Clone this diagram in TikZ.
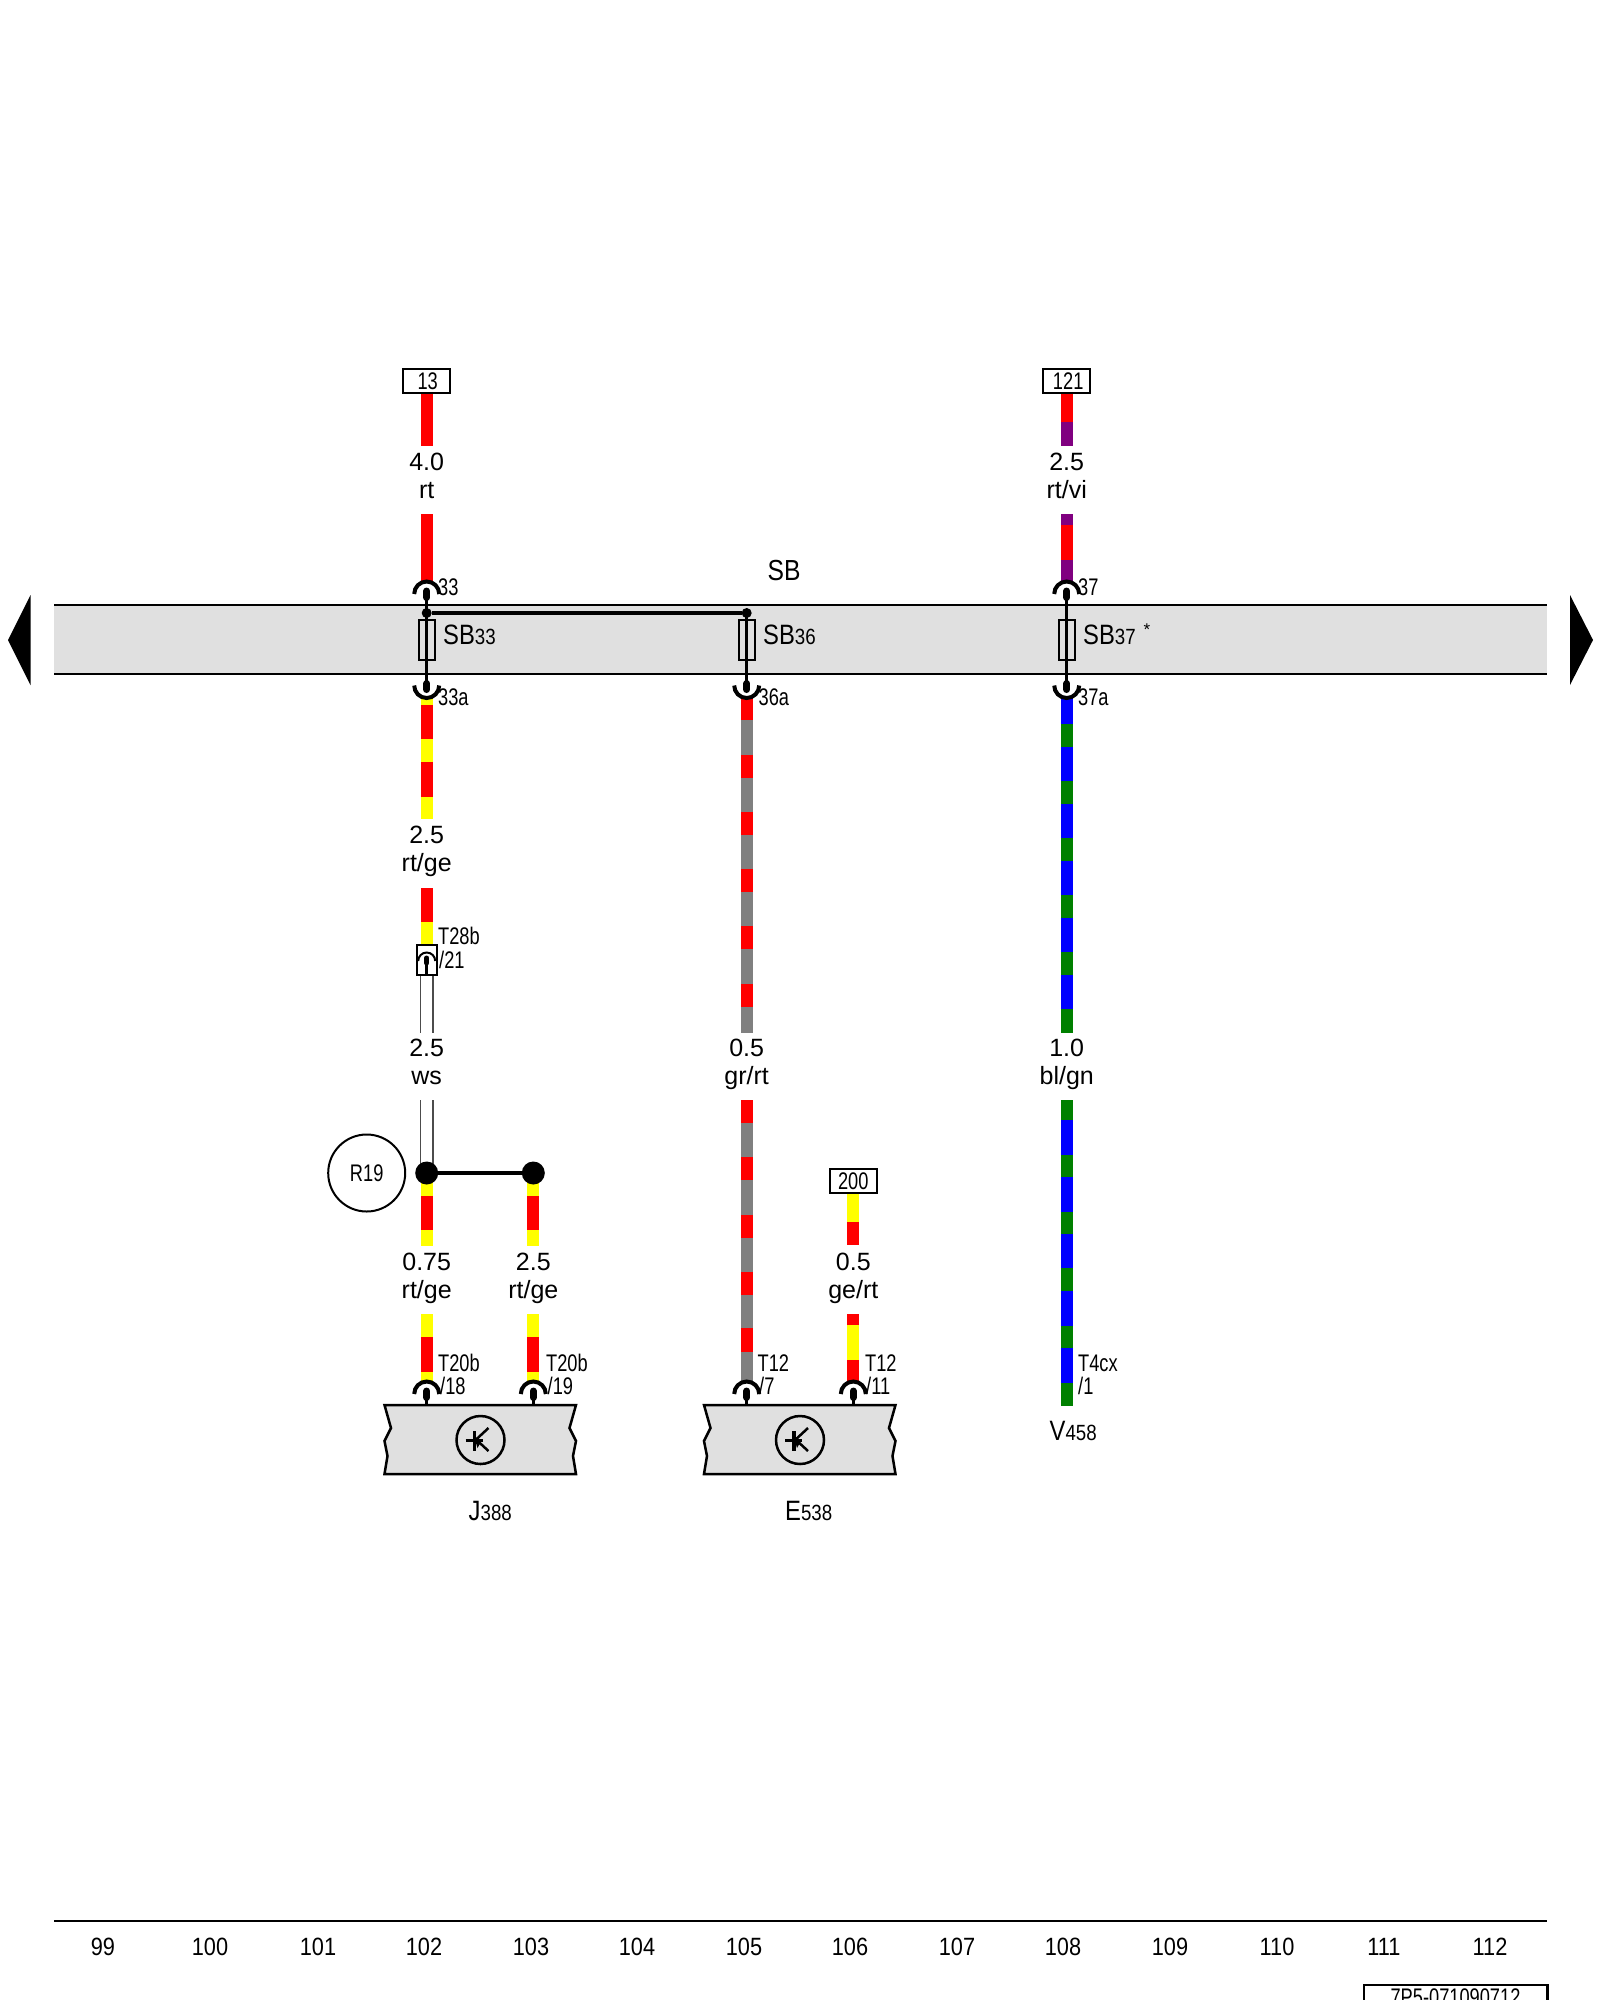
\documentclass[tikz,border=0pt]{standalone}
\usepackage{fontspec}
\setmainfont{Liberation Sans}
\newfontfamily\cf[FakeStretch=0.76]{Liberation Sans}
\newfontfamily\cfb[FakeStretch=0.85]{Liberation Sans}
\newfontfamily\nf[FakeStretch=0.87]{Liberation Sans}
\definecolor{wr}{HTML}{FF0000}
\definecolor{wy}{HTML}{FFFF00}
\definecolor{wg}{HTML}{808080}
\definecolor{wb}{HTML}{0000FF}
\definecolor{wn}{HTML}{008000}
\definecolor{wv}{HTML}{800080}
\definecolor{barfill}{HTML}{E0E0E0}
\tikzset{
  wireseg/.style={line width=12pt},
  whitewire/.style={line width=1.5pt,draw=black!70},
  wirelabel/.style={inner sep=0pt,anchor=base,font=\fontsize{25}{25}\selectfont},
  pinlabel/.style={inner sep=0pt,anchor=base west,font=\cf\fontsize{24}{24}\selectfont},
  reflabel/.style={draw=black,line width=2.5pt,fill=white,inner sep=0pt,minimum height=24pt,font=\cf\fontsize{24}{24}\selectfont},
  fusebox/.style={draw=black,line width=2pt,minimum width=16pt,minimum height=40pt,inner sep=0pt},
  thick wire/.style={line width=3.5pt,black},
  rail/.style={line width=2.5pt,black},
  collabel/.style={inner sep=0pt,anchor=base,font=\nf\fontsize{25}{25}\selectfont},
  bigname/.style={inner sep=0pt,anchor=base west,font=\cfb\fontsize{28}{28}\selectfont},
  ctrl/.style={draw=black,line width=2.5pt,fill=barfill,line join=miter},
  dotbig/.style={circle,fill=black,minimum size=23pt,inner sep=0pt},
  dotsmall/.style={circle,fill=black,minimum size=10pt,inner sep=0pt},
}
\newcommand\wirecol[2]{\foreach \ya/\yb/\cc in {#2}{\draw[wireseg,\cc] (#1,\ya) -- (#1,\yb);}}
\newcommand\sockup[2]{%
  \draw[line width=4pt,black] (#1-12.5,#2) arc[start angle=180,end angle=0,radius=12.5pt];
  \draw[line width=7pt,black,line cap=round] (#1,#2-3) -- (#1,#2+3.5);}
\newcommand\sockdown[2]{%
  \draw[line width=4pt,black] (#1-12.5,#2) arc[start angle=180,end angle=360,radius=12.5pt];
  \draw[line width=7pt,black,line cap=round] (#1,#2-2) -- (#1,#2+4);}
\newcommand\ctrlbox[1]{%
  \draw[ctrl] (#1,1405) -- (#1+191.5,1405) -- (#1+185,1428) -- (#1+191.5,1441) -- (#1+188.5,1456) -- (#1+191.5,1474)
     -- (#1,1474) -- (#1+3,1456) -- (#1,1441) -- (#1+6.5,1428) -- cycle;
  \node[circle,draw=black,line width=2.5pt,minimum size=48pt,inner sep=0pt] at (#1+96,1440) {};
  \draw[line width=3pt,black] (#1+81,1440) -- (#1+98,1440);
  \draw[line width=3.5pt,black] (#1+90,1431) -- (#1+90,1451);
  \draw[line width=2.5pt,black] (#1+90,1441) -- (#1+104,1428);
  \draw[line width=2.5pt,black] (#1+90,1438) -- (#1+104,1451);
  \fill[black] (#1+90,1438) -- (#1+97,1441) -- (#1+93,1448) -- cycle;}
\begin{document}
\begin{tikzpicture}[x=1pt,y=-1pt]
\useasboundingbox (0,0) rectangle (1600,2000);
% bar
\fill[barfill] (54,605) rectangle (1547,674);
\coordinate (barTL) at (54,605);\coordinate (barTR) at (1547,605);
\coordinate (barBL) at (54,674);\coordinate (barBR) at (1547,674);
\draw[rail] (barTL) -- (barTR);
\draw[rail] (barBL) -- (barBR);
\fill[black] (8,640) -- (30.5,595) -- (30.5,685) -- cycle;
\fill[black] (1593,640) -- (1570,595) -- (1570,685) -- cycle;
\node[inner sep=0pt,anchor=base west,font=\cfb\fontsize{29}{29}\selectfont] (sb) at (767.5,580) {SB};
% wire 102 upper
\wirecol{426.7}{393/445.7/wr,514/583/wr}
\wirecol{426.7}{698/705/wy,705/739/wr,739/762/wy,762/797/wr,797/819/wy,888/922/wr,922/945/wy}
% wire 108 upper
\wirecol{1066.7}{393/422/wr,422/445.7/wv,514/525/wv,525/560/wr,560/583/wv}
\wirecol{1066.7}{698/724/wb,724/747/wn,747/781/wb,781/804/wn,804/838/wb,838/861/wn,861/895/wb,895/918/wn,918/952/wb,952/975/wn,975/1009/wb,1009/1033/wn}
\wirecol{1066.7}{1100/1120/wn,1120/1155/wb,1155/1177/wn,1177/1212/wb,1212/1234/wn,1234/1268/wb,1268/1291/wn,1291/1326/wb,1326/1348/wn,1348/1383/wb,1383/1406/wn}
% wire 105
\wirecol{746.7}{698/720/wr,720/755/wg,755/778/wr,778/812/wg,812/835/wr,835/869/wg,869/892/wr,892/926/wg,926/949/wr,949/984/wg,984/1007/wr,1007/1033/wg}
\wirecol{746.7}{1100/1123/wr,1123/1157/wg,1157/1180/wr,1180/1215/wg,1215/1238/wr,1238/1272/wg,1272/1295/wr,1295/1328/wg,1328/1352/wr,1352/1383/wg}
% white wire
\foreach \xx in {420.5,433}{\draw[whitewire] (\xx,975) -- (\xx,1033);\draw[whitewire] (\xx,1100) -- (\xx,1173);}
% lower wires 102, 103
\foreach \xx in {426.7,533.3}{\wirecol{\xx}{1173/1196/wy,1196/1230/wr,1230/1246/wy,1314/1337/wy,1337/1372/wr,1372/1382/wy}}
% wire 106
\wirecol{853.3}{1193/1222/wy,1222/1245/wr,1314/1325/wr,1325/1360/wy,1360/1383/wr}
% reference boxes
\node[reflabel,minimum width=47pt] (r13) at (426.7,381) {\hspace*{2pt}13};
\node[reflabel,minimum width=47pt] (r121) at (1066.7,381) {\hspace*{3pt}121};
\node[reflabel,minimum width=47pt] (r200) at (853.3,1181) {200};
% wire labels
\foreach \xx/\yy/\ta/\tb in {426.7/470/4.0/rt,1066.7/470/2.5/rt{/}vi,426.7/843.5/2.5/rt{/}ge,426.7/1056/2.5/ws,746.7/1056/0.5/gr{/}rt,1066.7/1056/1.0/bl{/}gn,426.7/1270/0.75/rt{/}ge,533.3/1270/2.5/rt{/}ge,853.3/1270/0.5/ge{/}rt}{
  \node[wirelabel] at (\xx,\yy) {\ta};
  \node[wirelabel] at (\xx,\yy+28) {\tb};
}
% fuse stack
\node[fusebox] (f33) at (427,640) {};
\node[fusebox] (f36) at (747,640) {};
\node[fusebox] (f37) at (1067,640) {};
\node[dotsmall] (j33) at (426.7,613) {};
\node[dotsmall] (j36) at (746.7,613) {};
\draw[thick wire] (j33) -- (j36);
\coordinate (t33) at (426.7,599);\coordinate (b33) at (426.7,682);
\coordinate (t36) at (746.7,613);\coordinate (b36) at (746.7,682);
\coordinate (t37) at (1066.7,599);\coordinate (b37) at (1066.7,682);
\draw[thick wire] (t33) -- (b33);
\draw[thick wire] (t36) -- (b36);
\draw[thick wire] (t37) -- (b37);
\sockup{426.7}{594}\sockup{1066.7}{594}
\sockdown{426.7}{685.5}\sockdown{746.7}{685.5}\sockdown{1066.7}{685.5}
% pin labels
\foreach \xx/\yy/\tt in {438/595/33,1078/595/37,438/705/33a,758.5/705/36a,1078/705/37a,438/944/T28b,439/968/{/21},438/1371/T20b,440/1394/{/18},546/1371/T20b,547.5/1394/{/19},757.5/1371/T12,759/1394/{/7},865/1371/T12,866/1394/{/11},1078/1371/T4cx,1078/1394.5/{/1}}{
  \node[pinlabel] at (\xx,\yy) {\tt};
}
% SB labels
\foreach \xx/\nn in {443/33,763/36,1083/37}{
  \node[bigname] at (\xx,644) {SB{\cfb\fontsize{22}{22}\selectfont\nn}};
}
\node[inner sep=0pt,font=\fontsize{17}{17}\selectfont] (star) at (1147,630) {*};
% T28b connector
\node[draw=black,line width=2pt,minimum width=20pt,minimum height=30pt,inner sep=0pt] (t28) at (426.7,960) {};
\draw[line width=2pt,black] (426.7-8.5,961) arc[start angle=180,end angle=0,radius=8.5pt];
\draw[line width=5pt,black,line cap=round] (426.7,958) -- (426.7,963);
\draw[line width=2.5pt,black] (426.7,960) -- (t28.south);
% R19 and splice
\node[circle,draw=black,line width=2pt,minimum size=77pt,inner sep=0pt,font=\cf\fontsize{24}{24}\selectfont] (r19) at (366.7,1173) {R19};
\node[dotbig] (s1) at (426.7,1173) {};
\node[dotbig] (s2) at (533.3,1173) {};
\draw[thick wire] (s1) -- (s2);
% control units
\ctrlbox{384.5}
\ctrlbox{704}
\foreach \xx in {426.7,533.3,746.7,853.3}{
  \sockup{\xx}{1394}
  \draw[line width=3pt,black] (\xx,1396) -- (\xx,1405);
}
\node[bigname] (j388) at (468.5,1520) {J{\cfb\fontsize{22}{22}\selectfont 388}};
\node[bigname] (e538) at (785,1520) {E{\cfb\fontsize{22}{22}\selectfont 538}};
\node[bigname] (v458) at (1049.5,1440) {V{\cfb\fontsize{22}{22}\selectfont 458}};
% bottom
\coordinate (botL) at (54,1921);\coordinate (botR) at (1547,1921);
\draw[rail] (botL) -- (botR);
\foreach \ii/\xx in {99/103,100/210,101/318,102/424,103/531,104/637,105/744,106/850,107/957,108/1063,109/1170,110/1277,111/1384,112/1490}{
  \node[collabel] at (\xx,1955) {\ii};
}
\draw[line width=2.5pt,black] (1364,2030) -- (1364,1985) -- (1547.5,1985) -- (1547.5,2030);
\node[inner sep=0pt,anchor=base,font=\cf\fontsize{24}{24}\selectfont] (code) at (1455.5,2005) {7P5-071090712};
\end{tikzpicture}
\end{document}
